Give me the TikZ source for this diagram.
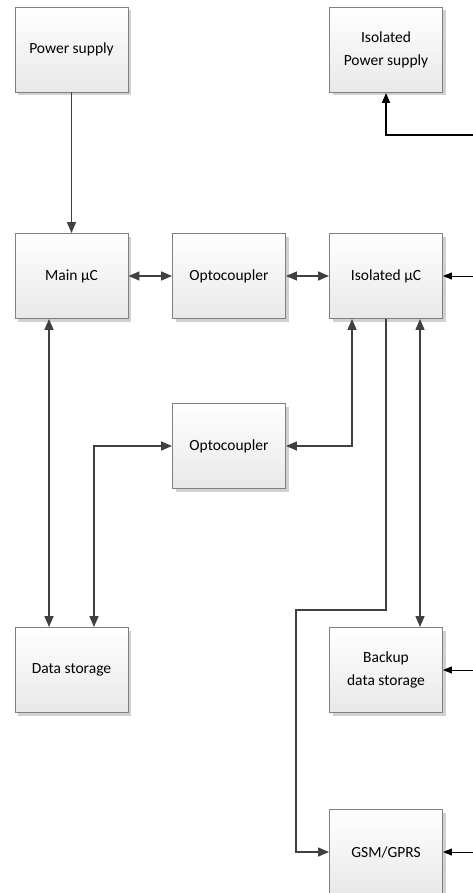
\documentclass[tikz,border=0pt]{standalone}
\usepackage{fontspec}
\setmainfont{Carlito}
\usetikzlibrary{arrows.meta,positioning,shadows}
\definecolor{linegray}{HTML}{404040}
\definecolor{boxline}{HTML}{808080}
\tikzset{
  block/.style={draw=boxline, line width=0.9pt, minimum width=113pt, minimum height=85pt,
    top color=white, bottom color=black!9, align=center, inner sep=2pt,
    font=\fontsize{15.5}{23.5}\selectfont,
    drop shadow={shadow xshift=3pt, shadow yshift=-3pt, fill=black!18, opacity=1}},
  link/.style={draw=linegray, line width=1.4pt, -{Triangle[length=11pt,width=9pt]}},
  dlink/.style={draw=linegray, line width=1.4pt, {Triangle[length=11pt,width=9pt]}-{Triangle[length=11pt,width=9pt]}},
  extlink/.style={draw=black, line width=1pt, -{Triangle[length=9pt,width=7pt]}},
}
\begin{document}
\begin{tikzpicture}[x=1pt,y=-1pt]
    \useasboundingbox (0,0) rectangle (473,893);

    % Blocks
    \node[block] (pow) at (71.5,49.5) {Power supply};
    \node[block] (ipow) at (386,50) {Isolated\\Power supply};
    \node[block] (main) at (71.5,276) {Main µC};
    \node[block] (opt1) at (229,276) {Optocoupler};
    \node[block] (imc) at (386,276) {Isolated µC};
    \node[block] (opt2) at (229,446) {Optocoupler};
    \node[block] (data) at (71.5,670) {Data storage};
    \node[block] (bdata) at (386,670) {Backup\\data storage};
    \node[block] (gsm) at (386,852) {GSM/GPRS};

    % Free ends at the right edge
    \coordinate (e0) at (473,135);
    \coordinate (e1) at (473,276);
    \coordinate (e2) at (473,670);
    \coordinate (e3) at (473,852);

    % Connectors
    \draw[link] (pow) -- (main);
    \draw[dlink] (main) -- (opt1);
    \draw[dlink] (opt1) -- (imc);
    \draw[dlink] (main.south -| 49,0) -- (data.north -| 49,0);
    \draw[dlink] (data.north -| 94,0) |- (opt2.west);
    \draw[dlink] (opt2.east) -| (imc.south -| 352,0);
    \draw[link] (imc.south) |- (296,610) |- (gsm.west);
    \draw[dlink] (imc.south -| 420,0) -- (bdata.north -| 420,0);

    % Inputs from the right
    \draw[draw=black, line width=1.8pt, -{Triangle[length=10pt,width=8pt]}] (e0) -| (ipow.south);
    \draw[extlink] (e1) -- (imc.east);
    \draw[extlink] (e2) -- (bdata.east);
    \draw[extlink] (e3) -- (gsm.east);
\end{tikzpicture}
\end{document}
